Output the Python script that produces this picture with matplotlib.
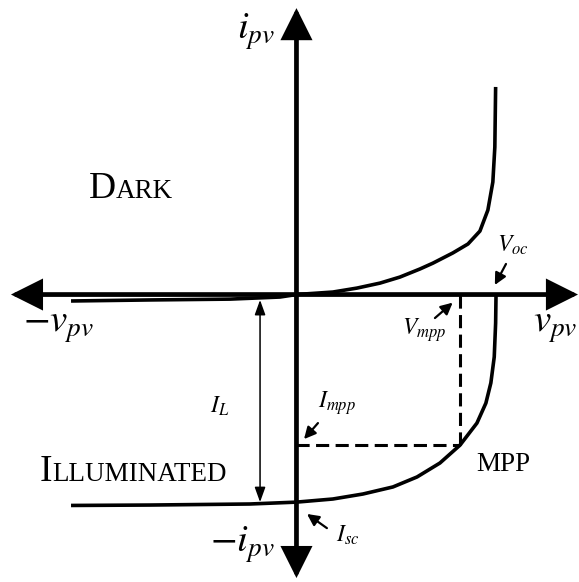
import matplotlib
matplotlib.use("Agg")
import matplotlib.pyplot as plt

# -------------------------
# normalised I-V data (v / Voc, i / I_L)
# -------------------------
V_DARK = [-1.133, -0.736, -0.334, -0.083, 0.0, 0.183, 0.304, 0.420, 0.520,
          0.621, 0.686, 0.786, 0.862, 0.922, 0.962, 0.987, 0.997, 1.001]
I_DARK = [-0.031, -0.026, -0.022, -0.012, 0.0, 0.012, 0.031, 0.055, 0.084,
          0.123, 0.151, 0.200, 0.243, 0.305, 0.406, 0.541, 0.709, 0.998]

V_ILLUM = [-1.133, -0.736, -0.234, 0.0, 0.183, 0.334, 0.485, 0.606, 0.721,
           0.822, 0.907, 0.952, 0.977, 0.994, 1.001, 1.003]
I_ILLUM = [-1.014, -1.012, -1.007, -0.998, -0.983, -0.959, -0.925, -0.877,
           -0.810, -0.724, -0.618, -0.522, -0.425, -0.300, -0.137, 0.0]

V_MPP, I_MPP = 0.822, -0.724
V_OC = 1.003
I_SC = -0.998
IL_V = -0.183               # where the I_L span is drawn
IL_TOP, IL_BOT = -0.026, -0.998

# axis extents
V_MIN, V_MAX = -1.435, 1.415
I_MIN, I_MAX = -1.363, 1.377

plt.rcParams["mathtext.fontset"] = "stix"
SERIF = "Liberation Serif"

fig = plt.figure(figsize=(5.79, 5.82), dpi=100)
ax = fig.add_axes([0, 0, 1, 1])
ax.set_xlim(-1.490, 1.420)
ax.set_ylim(-1.382, 1.416)
ax.axis("off")

# axes with arrow heads at both ends
axis_arrow = dict(arrowstyle="<|-|>,head_length=0.4,head_width=0.2",
                  lw=3.4, color="black", mutation_scale=44,
                  shrinkA=0, shrinkB=0, joinstyle="miter")
ax.annotate("", xy=(V_MAX, 0), xytext=(V_MIN, 0), arrowprops=axis_arrow)
ax.annotate("", xy=(0, I_MAX), xytext=(0, I_MIN), arrowprops=axis_arrow)

# curves
ax.plot(V_DARK, I_DARK, color="black", lw=2.6, solid_capstyle="butt")
ax.plot(V_ILLUM, I_ILLUM, color="black", lw=2.6, solid_capstyle="butt")

# MPP guides
ax.plot([V_MPP, V_MPP], [0, I_MPP], color="black", lw=2.2,
        linestyle=(0, (4.3, 2.1)))
ax.plot([0, V_MPP], [I_MPP, I_MPP], color="black", lw=2.2,
        linestyle=(0, (4.3, 2.1)))

# I_L span
ax.annotate("", xy=(IL_V, IL_BOT), xytext=(IL_V, IL_TOP),
            arrowprops=dict(arrowstyle="<|-|>,head_length=0.5,head_width=0.18",
                            lw=1.1, color="black", mutation_scale=18,
                            shrinkA=0, shrinkB=0))

# pointer arrows
ptr = dict(arrowstyle="-|>,head_length=0.5,head_width=0.25", lw=1.6,
           color="black", mutation_scale=14, shrinkA=0, shrinkB=0)
ax.annotate("", xy=(0.997, 0.046), xytext=(1.053, 0.147), arrowprops=ptr)
ax.annotate("", xy=(0.785, -0.039), xytext=(0.696, -0.113), arrowprops=ptr)
ax.annotate("", xy=(0.038, -0.695), xytext=(0.108, -0.618), arrowprops=ptr)
ax.annotate("", xy=(0.053, -1.055), xytext=(0.153, -1.123), arrowprops=ptr)

# axis labels
big = 28
ax.text(-0.205, 1.262, r"$i_{pv}$", fontsize=big, ha="center", va="center")
ax.text(-0.27, -1.204, r"$-i_{pv}$", fontsize=big, ha="center", va="center")
ax.text(-1.193, -0.150, r"$-v_{pv}$", fontsize=big, ha="center", va="center")
ax.text(1.30, -0.150, r"$v_{pv}$", fontsize=big, ha="center", va="center")

# point labels
small = 17
ax.text(-0.384, -0.536, r"$I_L$", fontsize=small, ha="center", va="center")
ax.text(1.088, 0.238, r"$V_{oc}$", fontsize=small, ha="center", va="center")
ax.text(0.641, -0.171, r"$V_{mpp}$", fontsize=small, ha="center", va="center")
ax.text(0.203, -0.522, r"$I_{mpp}$", fontsize=small, ha="center", va="center")
ax.text(0.259, -1.156, r"$I_{sc}$", fontsize=small, ha="center", va="center")


def small_caps(x, y, first, rest, size_big=27, size_small=19.5):
    t = ax.text(x, y, first, fontsize=size_big, family=SERIF,
                ha="left", va="baseline")
    ax.annotate(rest, xy=(1, y), xycoords=(t, "data"), fontsize=size_small,
                family=SERIF, ha="left", va="baseline")


small_caps(-1.043, 0.464, "D", "ARK")
small_caps(-1.289, -0.897, "I", "LLUMINATED")
ax.text(0.902, -0.849, "MPP", fontsize=19.5, family=SERIF,
        ha="left", va="baseline")

fig.savefig("out.png", dpi=100)
